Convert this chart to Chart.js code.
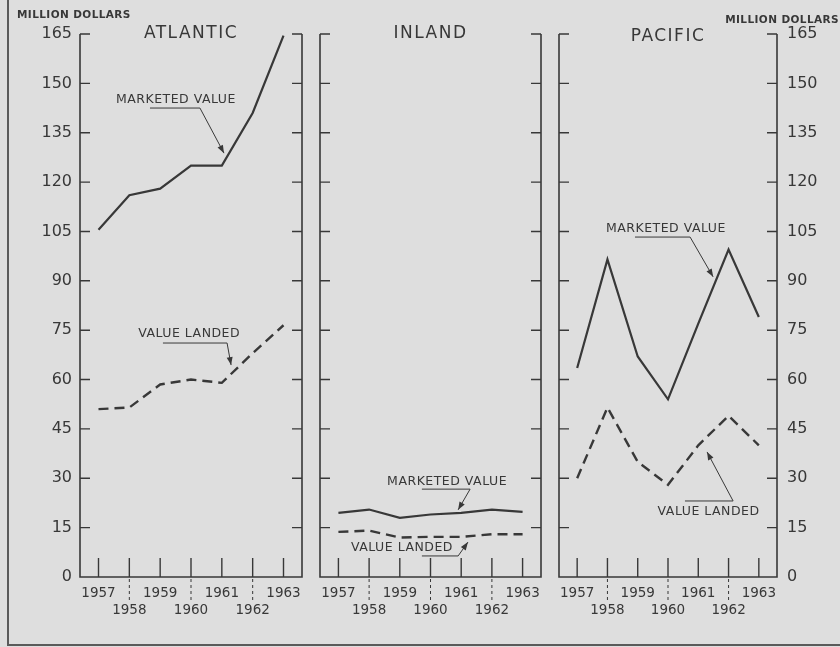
<!DOCTYPE html>
<html>
<head>
<meta charset="utf-8">
<script src="https://cdn.jsdelivr.net/npm/chart.js@4.4.1/dist/chart.umd.min.js"></script>
<style>
html,body{margin:0;padding:0;}
body{width:840px;height:647px;background:#dedede;position:relative;overflow:hidden;}
canvas{position:absolute;left:0;top:0;}
#cadre{position:absolute;left:7px;top:0;width:833px;height:646px;border-left:2px solid #5a5a5a;border-bottom:2px solid #5a5a5a;box-sizing:border-box;}
</style>
</head>
<body>
<div id="cadre"></div>
<canvas id="atlantique" width="840" height="647"></canvas>
<canvas id="interieur" width="840" height="647"></canvas>
<canvas id="pacifique" width="840" height="647"></canvas>
<script>
var annees=[1957,1958,1959,1960,1961,1962,1963];
var graduations=[0,15,30,45,60,75,90,105,120,135,150,165];

// millions de dollars
var atlMarche=[105.5,116,118,125,125,141,164.5];
var atlDebarque=[51,51.5,58.5,60,59,68,76.5];
var intMarche=[19.5,20.5,18,19,19.5,20.5,19.8];
var intDebarque=[13.7,14.1,12,12.2,12.2,13,13];
var pacMarche=[63.5,96.5,67,54,77,99.5,79];
var pacDebarque=[30,51.5,35,28,40,49,40];

var encre="#383838";
var police="'DejaVu Sans', sans-serif";

function points(vals){
  return annees.map(function(a,i){return {x:a,y:vals[i]};});
}

function courbes(marche,debarque){
  return [
    {data:points(marche),borderColor:encre,borderWidth:2.2,pointRadius:0,fill:false,tension:0},
    {data:points(debarque),borderColor:encre,borderWidth:2.4,borderDash:[10,6],pointRadius:0,fill:false,tension:0}
  ];
}

function fleche(ctx,x0,y0,x1,y1){
  var ang=Math.atan2(y1-y0,x1-x0);
  ctx.beginPath();
  ctx.moveTo(x1,y1);
  ctx.lineTo(x1-8*Math.cos(ang)+3*Math.sin(ang),y1-8*Math.sin(ang)-3*Math.cos(ang));
  ctx.lineTo(x1-8*Math.cos(ang)-3*Math.sin(ang),y1-8*Math.sin(ang)+3*Math.cos(ang));
  ctx.closePath();
  ctx.fill();
}

var decor={
  id:"decor",
  afterDraw:function(chart,args,opts){
    var ctx=chart.ctx,a=chart.chartArea,xs=chart.scales.x,ys=chart.scales.y;
    ctx.save();
    ctx.strokeStyle=encre;ctx.fillStyle=encre;
    // axes
    ctx.lineWidth=1.6;
    ctx.beginPath();
    ctx.moveTo(a.left,a.top);ctx.lineTo(a.left,a.bottom);
    ctx.lineTo(a.right,a.bottom);ctx.lineTo(a.right,a.top);
    ctx.stroke();
    ctx.lineWidth=1.4;
    graduations.forEach(function(v){
      if(v===0) return;
      var y=ys.getPixelForValue(v);
      ctx.beginPath();
      ctx.moveTo(a.left,y);ctx.lineTo(a.left+10,y);
      ctx.moveTo(a.right,y);ctx.lineTo(a.right-10,y);
      ctx.stroke();
    });
    annees.forEach(function(an){
      var x=xs.getPixelForValue(an);
      ctx.setLineDash([]);ctx.lineWidth=1.4;
      ctx.beginPath();ctx.moveTo(x,a.bottom-19);ctx.lineTo(x,a.bottom);ctx.stroke();
      if(an%2===0){
        ctx.setLineDash([3,3]);ctx.lineWidth=1;
        ctx.beginPath();ctx.moveTo(x,a.bottom+2);ctx.lineTo(x,a.bottom+24);ctx.stroke();
      }
    });
    ctx.setLineDash([]);
    // titre
    ctx.font="17px "+police;
    ctx.letterSpacing="1.5px";
    ctx.textAlign="center";ctx.textBaseline="middle";
    ctx.fillText(opts.titre,(a.left+a.right)/2,a.top+opts.decalTitre);
    // unite
    ctx.font="bold 10.5px "+police;
    ctx.letterSpacing="0.4px";
    if(opts.unite==="gauche"){
      ctx.textAlign="left";ctx.fillText("MILLION DOLLARS",a.left-63,a.top-19);
    } else if(opts.unite==="droite"){
      ctx.textAlign="right";ctx.fillText("MILLION DOLLARS",a.right+62,a.top-14);
    }
    // notes
    ctx.font="12.5px "+police;
    ctx.letterSpacing="0.5px";
    ctx.textAlign="center";
    ctx.lineWidth=1;
    opts.notes.forEach(function(n){
      ctx.fillText(n.texte,xs.getPixelForValue(n.tx),ys.getPixelForValue(n.ty));
      var p=n.trait.map(function(q){return [xs.getPixelForValue(q[0]),ys.getPixelForValue(q[1])];});
      ctx.beginPath();
      ctx.moveTo(p[0][0],p[0][1]);
      for(var i=1;i<p.length;i++) ctx.lineTo(p[i][0],p[i][1]);
      ctx.stroke();
      var k=p.length-1;
      fleche(ctx,p[k-1][0],p[k-1][1],p[k][0],p[k][1]);
    });
    ctx.restore();
  }
};

function config(marche,debarque,cote,padding,decorOpts){
  var axeY={
    min:0,max:165,
    display:cote!==null,
    position:cote||"left",
    afterBuildTicks:function(s){s.ticks=graduations.map(function(v){return {value:v};});},
    afterFit:function(s){s.width=(cote===null)?0:(cote==="right")?63:80;},
    grid:{display:false,drawTicks:false},
    border:{display:false},
    ticks:{color:encre,font:{family:police,size:16},padding:(cote==="right")?10:8}
  };
  return {
    type:"line",
    data:{datasets:courbes(marche,debarque)},
    plugins:[decor],
    options:{
      responsive:false,
      animation:false,
      layout:{padding:padding},
      scales:{
        x:{
          type:"linear",min:1956.4,max:1963.6,
          afterBuildTicks:function(s){s.ticks=annees.map(function(v){return {value:v};});},
          afterFit:function(s){s.height=70;},
          grid:{display:false,drawTicks:false},
          border:{display:false},
          ticks:{
            color:encre,padding:8,autoSkip:false,maxRotation:0,minRotation:0,
            font:{family:police,size:13.5,lineHeight:1.25},
            callback:function(v){return v%2?String(v):["",String(v)];}
          }
        },
        y:axeY
      },
      plugins:{
        legend:{display:false},
        tooltip:{enabled:false},
        decor:decorOpts
      }
    }
  };
}

window.onload=function(){
  new Chart(document.getElementById("atlantique").getContext("2d"),
    config(atlMarche,atlDebarque,"left",{left:0,top:34,right:538,bottom:0},{
      titre:"ATLANTIC",decalTitre:0,unite:"gauche",
      notes:[
        {texte:"MARKETED VALUE",tx:1959.51,ty:144.9,trait:[[1958.67,142.5],[1960.29,142.5],[1961.07,128.8]]},
        {texte:"VALUE LANDED",tx:1959.94,ty:73.8,trait:[[1959.09,71.1],[1961.17,71.1],[1961.3,64.4]]}
      ]
    }));
  new Chart(document.getElementById("interieur").getContext("2d"),
    config(intMarche,intDebarque,null,{left:320,top:34,right:299,bottom:0},{
      titre:"INLAND",decalTitre:0,unite:null,
      notes:[
        {texte:"MARKETED VALUE",tx:1960.54,ty:28.9,trait:[[1959.72,26.7],[1961.29,26.7],[1960.9,20.4]]},
        {texte:"VALUE LANDED",tx:1959.07,ty:8.8,trait:[[1959.72,6.4],[1960.9,6.4],[1961.22,10.6]]}
      ]
    }));
  new Chart(document.getElementById("pacifique").getContext("2d"),
    config(pacMarche,pacDebarque,"right",{left:559,top:34,right:0,bottom:0},{
      titre:"PACIFIC",decalTitre:3,unite:"droite",
      notes:[
        {texte:"MARKETED VALUE",tx:1959.93,ty:105.7,trait:[[1958.91,103.3],[1960.73,103.3],[1961.49,91.2]]},
        {texte:"VALUE LANDED",tx:1961.34,ty:19.8,trait:[[1960.56,23.1],[1962.15,23.1],[1961.29,38.0]]}
      ]
    }));
};
</script>
</body>
</html>
